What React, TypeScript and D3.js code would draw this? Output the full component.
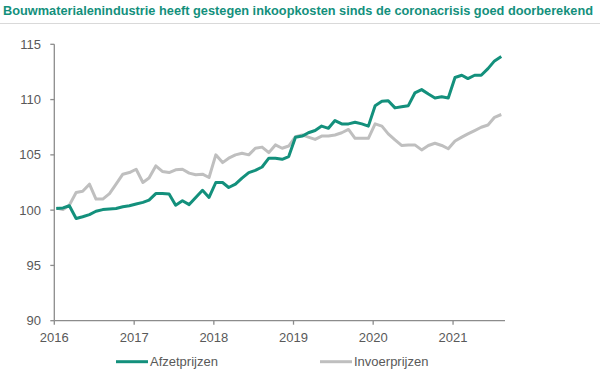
import React from 'react';
import * as d3 from 'd3';

// monthly index, Jan 2016 .. Aug 2021
const afzetprijzen = [
  100.15, 100.2, 100.4, 99.25, 99.4, 99.6, 99.9, 100.05, 100.1, 100.15, 100.3, 100.4,
  100.55, 100.7, 100.9, 101.5, 101.5, 101.45, 100.45, 100.85, 100.5, 101.15, 101.8, 101.15,
  102.5, 102.5, 102.05, 102.35, 102.9, 103.4, 103.6, 103.9, 104.7, 104.7, 104.6, 104.85,
  106.6, 106.7, 107.0, 107.2, 107.6, 107.4, 108.1, 107.8, 107.8, 107.95, 107.8, 107.6,
  109.45, 109.85, 109.9, 109.25, 109.35, 109.45, 110.6, 110.9, 110.5, 110.15, 110.25, 110.15,
  112.0, 112.2, 111.9, 112.2, 112.2, 112.8, 113.5, 113.9,
];

const invoerprijzen = [
  100.2, 100.05, 100.45, 101.6, 101.7, 102.35, 101.0, 101.0, 101.5, 102.35, 103.25, 103.4,
  103.7, 102.5, 102.9, 104.0, 103.5, 103.4, 103.65, 103.7, 103.35, 103.2, 103.25, 102.95,
  105.0, 104.3, 104.7, 105.0, 105.15, 105.0, 105.6, 105.7, 105.2, 105.9, 105.6, 105.8,
  106.65, 106.8, 106.6, 106.4, 106.7, 106.7, 106.8, 107.0, 107.3, 106.5, 106.5, 106.5,
  107.8, 107.6, 106.9, 106.35, 105.85, 105.9, 105.9, 105.45, 105.85, 106.05, 105.85, 105.55,
  106.25, 106.6, 106.9, 107.2, 107.5, 107.7, 108.4, 108.65,
];

const yTicks = [90, 95, 100, 105, 110, 115];
const yearTicks = [2016, 2017, 2018, 2019, 2020, 2021];

const title = 'Bouwmaterialenindustrie heeft gestegen inkoopkosten sinds de coronacrisis goed doorberekend';
const seriesNames = ['Afzetprijzen', 'Invoerprijzen'];

const GREEN = '#13907c';
const GREY = '#bfbfbf';
const AXIS = '#8c8c8c';
const LABEL = '#595959';
const FONT = '"Liberation Sans", Arial, sans-serif';

const App: React.FC = () => {
  const width = 600;
  const height = 372;

  const x = d3.scaleTime()
    .domain([new Date(2016, 0, 1), new Date(2021, 7, 27)])
    .range([54.3, 505]);

  const y = d3.scaleLinear()
    .domain([90, 115])
    .range([320.7, 44.3]);

  const dateOf = (i: number) => new Date(2016, i, 10);

  const line = d3.line<number>()
    .x((_, i) => x(dateOf(i)))
    .y(d => y(d));

  const x0 = x.range()[0];
  const y0 = y.range()[0];

  return (
    <svg width={width} height={height}
      style={{ position: 'absolute', left: 0, top: 0, background: '#fff' }}
      fontFamily={FONT}>
      {/* title */}
      <text x={3} y={14.5} fontSize={12.5} fontWeight="bold" fill={GREEN}
        textLength={590} lengthAdjust="spacingAndGlyphs">{title}</text>
      <line x1={0} x2={width} y1={23.5} y2={23.5} stroke="#d9d9d9" strokeWidth={1} />

      {/* y axis */}
      <line x1={x0} x2={x0} y1={y(115)} y2={y0} stroke={AXIS} strokeWidth={1.3} />
      {yTicks.map(t => (
        <g key={t}>
          <line x1={x0 - 4} x2={x0} y1={y(t)} y2={y(t)} stroke={AXIS} strokeWidth={1.3} />
          <text x={41} y={y(t)} dy="0.35em" textAnchor="end" fontSize={13} fill={LABEL}>{t}</text>
        </g>
      ))}

      {/* x axis */}
      <line x1={x0} x2={x.range()[1]} y1={y0} y2={y0} stroke={AXIS} strokeWidth={1.3} />
      {yearTicks.map(yr => {
        const px = x(new Date(yr, 0, 1));
        return (
          <g key={yr}>
            <line x1={px} x2={px} y1={y0} y2={y0 + 4} stroke={AXIS} strokeWidth={1.3} />
            <text x={px} y={341.5} textAnchor="middle" fontSize={13} fill={LABEL}>{yr}</text>
          </g>
        );
      })}

      {/* series */}
      <path d={line(invoerprijzen) ?? ''} fill="none" stroke={GREY} strokeWidth={3} strokeLinejoin="round" />
      <path d={line(afzetprijzen) ?? ''} fill="none" stroke={GREEN} strokeWidth={3} strokeLinejoin="round" />

      {/* legend */}
      {seriesNames.map((name, i) => {
        const lx = i === 0 ? 116 : 320;
        return (
          <g key={name}>
            <line x1={lx} x2={lx + 32} y1={361.7} y2={361.7} stroke={i === 0 ? GREEN : GREY} strokeWidth={3} />
            <text x={lx + 34} y={366} fontSize={13} fill={LABEL}>{name}</text>
          </g>
        );
      })}
    </svg>
  );
};

export default App;
